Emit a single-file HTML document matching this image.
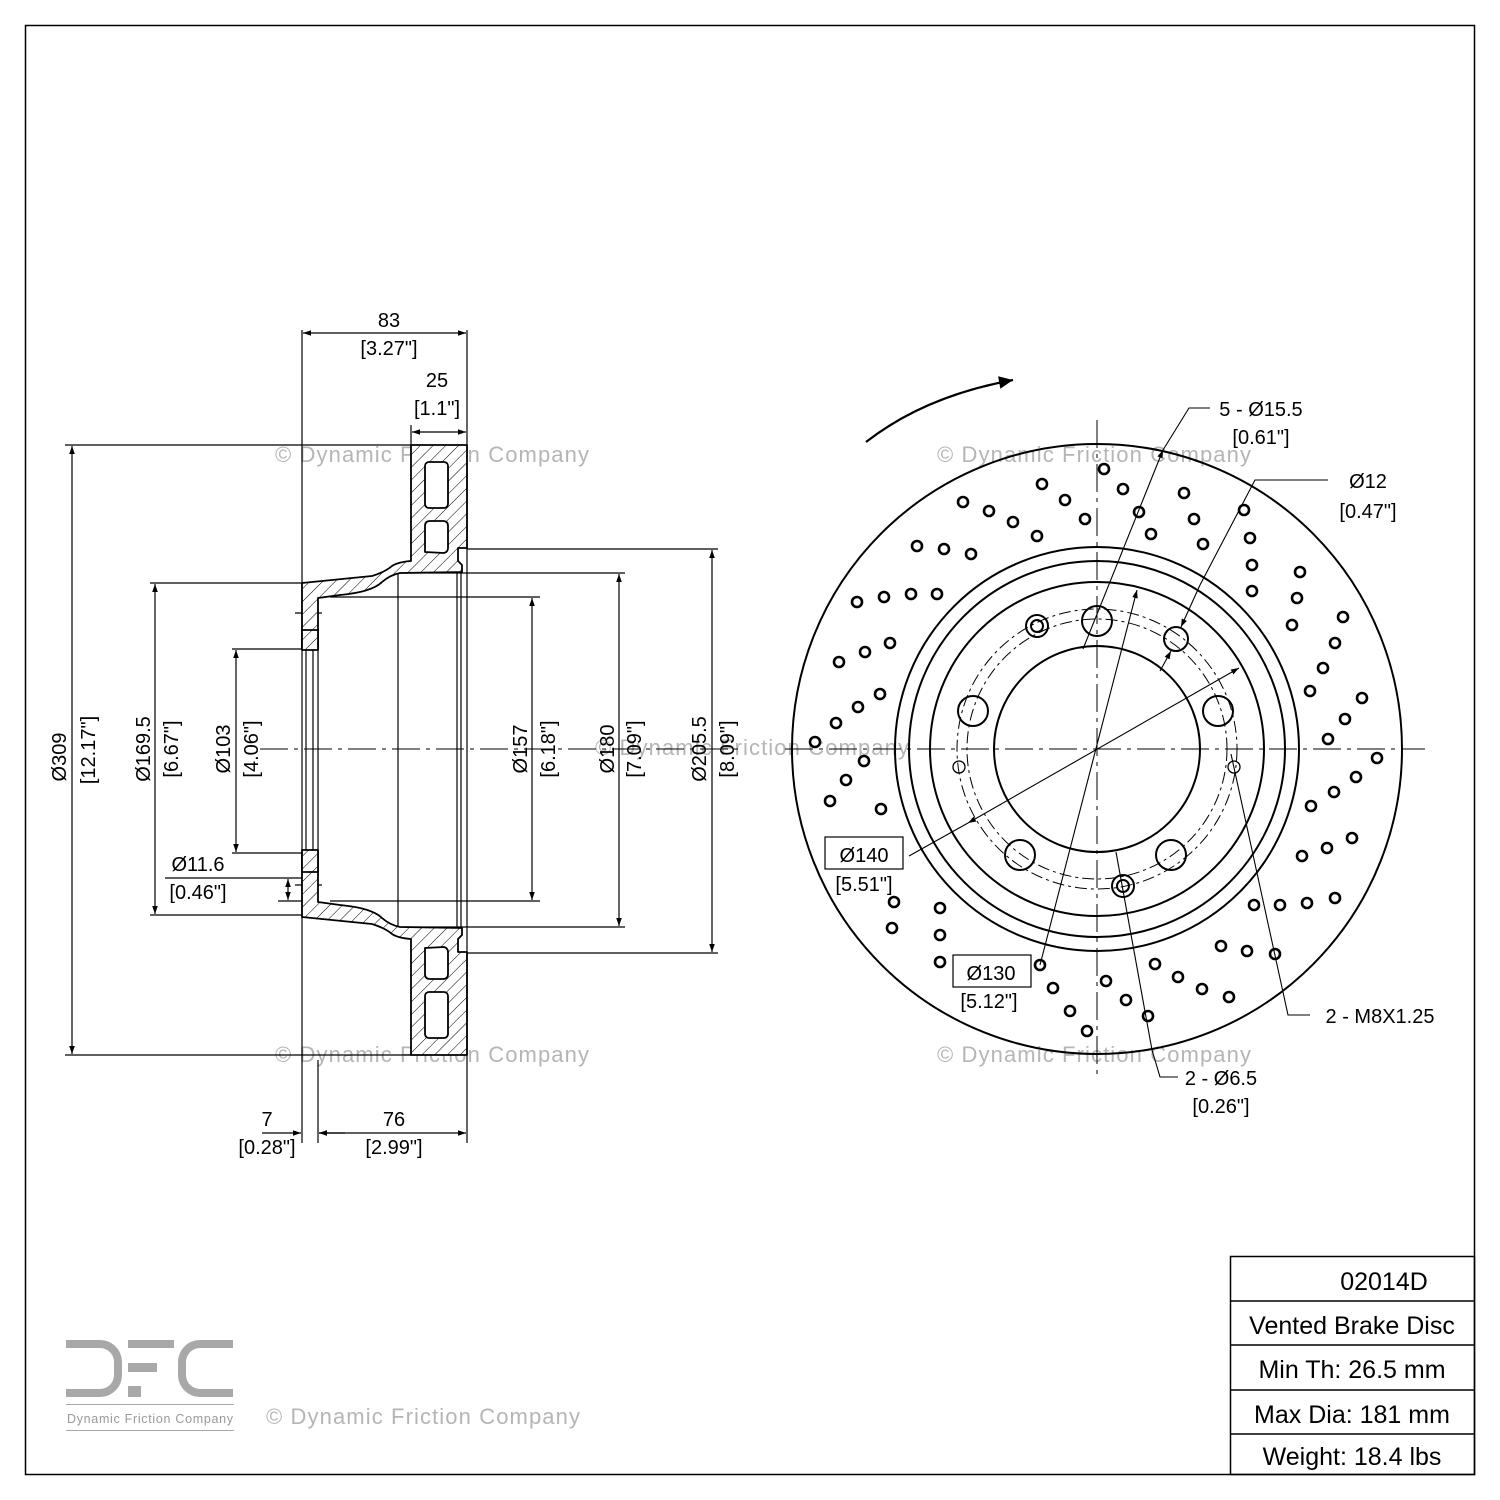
<!DOCTYPE html>
<html><head><meta charset="utf-8"><style>
html,body{margin:0;padding:0;background:#fff}
svg{display:block}
text{font-family:"Liberation Sans",sans-serif}
</style></head><body>
<svg width="1500" height="1500" viewBox="0 0 1500 1500" xmlns="http://www.w3.org/2000/svg">
<defs>
<pattern id="h" patternUnits="userSpaceOnUse" width="9" height="9" patternTransform="rotate(45)">
<rect width="9" height="9" fill="#fff"/><line x1="0" y1="0" x2="0" y2="9" stroke="#000" stroke-width="1"/>
</pattern>
<marker id="a" viewBox="0 0 10 10" refX="10" refY="5" markerWidth="10" markerHeight="8" orient="auto-start-reverse" markerUnits="userSpaceOnUse"><path d="M0,1.5 L10,5 L0,8.5z" fill="#000"/></marker>
<marker id="b" viewBox="0 0 10 10" refX="10" refY="5" markerWidth="20" markerHeight="14" orient="auto" markerUnits="userSpaceOnUse"><path d="M0,0.5 L10,5 L0,9.5z" fill="#000"/></marker>
</defs>
<rect x="25.5" y="25.5" width="1449" height="1449" fill="none" stroke="#000" stroke-width="1.5"/>

<!-- watermarks -->
<g fill="#b5b5b5" font-size="22">
<text x="275" y="462" textLength="314">© Dynamic Friction Company</text>
<text x="937" y="462" textLength="314">© Dynamic Friction Company</text>
<text x="275" y="1062" textLength="314">© Dynamic Friction Company</text>
<text x="937" y="1062" textLength="314">© Dynamic Friction Company</text>
<text x="595" y="755" textLength="314">© Dynamic Friction Company</text>
<text x="266" y="1424" textLength="314">© Dynamic Friction Company</text>
</g>

<!-- SIDE VIEW -->
<g stroke="#000" stroke-width="1.2" fill="none">
<line x1="302" y1="330" x2="302" y2="1143"/>
<line x1="467" y1="330" x2="467" y2="1143"/>
<line x1="318" y1="1060" x2="318" y2="1143"/>
<line x1="411" y1="425" x2="411" y2="445"/>
<line x1="398" y1="565" x2="398" y2="933"/>
<line x1="461" y1="565" x2="461" y2="933"/>
<line x1="457" y1="565" x2="457" y2="933"/>
<line x1="306" y1="640" x2="306" y2="860"/>
<line x1="313" y1="640" x2="313" y2="860"/>
<line x1="318" y1="640" x2="318" y2="860"/>
<line x1="467" y1="549" x2="718" y2="549"/>
<line x1="467" y1="953" x2="718" y2="953"/>
<line x1="400" y1="573" x2="625" y2="573"/>
<line x1="400" y1="927" x2="625" y2="927"/>
<line x1="330" y1="597" x2="540" y2="597"/>
<line x1="330" y1="901" x2="540" y2="901"/>
<line x1="150" y1="583" x2="302" y2="583"/>
<line x1="150" y1="915" x2="302" y2="915"/>
<line x1="232" y1="649" x2="302" y2="649"/>
<line x1="232" y1="853" x2="302" y2="853"/>
<line x1="65" y1="445" x2="411" y2="445"/>
<line x1="65" y1="1055" x2="411" y2="1055"/>
<line x1="165" y1="878" x2="302" y2="878"/>
<line x1="278" y1="901" x2="302" y2="901"/>
<line x1="295" y1="885" x2="322" y2="885"/>
<line x1="295" y1="613" x2="322" y2="613"/>
</g>
<g stroke="#000" stroke-width="1.8" fill="url(#h)" stroke-linejoin="round">
<path d="M302,583 L372,576 Q385,572 392,566 Q398,562 411,561 L411,445 L467,445 L467,548 L458,548 L458,561 L462,565 L462,572 L400,573 Q390,575 382,582 Q372,592 340,595 L318,598 L318,649 L302,649 Z"/>
<path d="M302,917 L372,924 Q385,928 392,934 Q398,938 411,939 L411,1055 L467,1055 L467,952 L458,952 L458,939 L462,935 L462,928 L400,927 Q390,925 382,918 Q372,908 340,905 L318,902 L318,851 L302,851 Z"/>
<rect x="425" y="462" width="23" height="46" rx="4" fill="#fff"/>
<path d="M425,552 L425,526 Q425,521 430,521 L443,521 Q448,521 448,526 L448,548 Q448,552 444,553 Z" fill="#fff"/>
<rect x="425" y="992" width="23" height="46" rx="4" fill="#fff"/>
<path d="M425,948 L425,974 Q425,979 430,979 L443,979 Q448,979 448,974 L448,952 Q448,948 444,947 Z" fill="#fff"/>
<rect x="302" y="630" width="16" height="20" fill="url(#h)"/>
<rect x="302" y="850" width="16" height="22" fill="url(#h)"/>
</g>
<line x1="260" y1="749" x2="740" y2="749" stroke="#000" stroke-width="1" stroke-dasharray="28,6,4,6"/>
<g stroke="#000" stroke-width="1.2" marker-start="url(#a)" marker-end="url(#a)">
<line x1="303" y1="333" x2="466" y2="333"/>
<line x1="412" y1="432" x2="466" y2="432"/>
<line x1="72" y1="446" x2="72" y2="1054"/>
<line x1="155" y1="584" x2="155" y2="914"/>
<line x1="236" y1="650" x2="236" y2="852"/>
<line x1="532" y1="598" x2="532" y2="900"/>
<line x1="619" y1="574" x2="619" y2="926"/>
<line x1="712" y1="550" x2="712" y2="952"/>
<line x1="319" y1="1133" x2="466" y2="1133"/>
</g>
<line x1="288" y1="879" x2="288" y2="900" stroke="#000" stroke-width="1.2" marker-start="url(#a)" marker-end="url(#a)"/>
<line x1="262" y1="1133" x2="301" y2="1133" stroke="#000" stroke-width="1.2" marker-end="url(#a)"/>
<line x1="345" y1="1133" x2="319" y2="1133" stroke="#000" stroke-width="1.2" marker-end="url(#a)"/>

<g font-size="20" fill="#000" text-anchor="middle">
<text x="389" y="327">83</text><text x="389" y="355">[3.27"]</text>
<text x="437" y="387">25</text><text x="437" y="415">[1.1"]</text>
<text x="267" y="1126">7</text><text x="267" y="1154">[0.28"]</text>
<text x="394" y="1126">76</text><text x="394" y="1154">[2.99"]</text>
<text x="198" y="871">Ø11.6</text><text x="198" y="899">[0.46"]</text>
<text transform="translate(66,757) rotate(-90)">Ø309</text>
<text transform="translate(95,750) rotate(-90)">[12.17"]</text>
<text transform="translate(150,749) rotate(-90)">Ø169.5</text>
<text transform="translate(178,749) rotate(-90)">[6.67"]</text>
<text transform="translate(230,749) rotate(-90)">Ø103</text>
<text transform="translate(258,749) rotate(-90)">[4.06"]</text>
<text transform="translate(527,749) rotate(-90)">Ø157</text>
<text transform="translate(555,749) rotate(-90)">[6.18"]</text>
<text transform="translate(614,749) rotate(-90)">Ø180</text>
<text transform="translate(641,749) rotate(-90)">[7.09"]</text>
<text transform="translate(706,749) rotate(-90)">Ø205.5</text>
<text transform="translate(734,749) rotate(-90)">[8.09"]</text>
</g>

<!-- FRONT VIEW -->
<g stroke="#000" fill="none" stroke-width="2">
<circle cx="1097" cy="749" r="305"/>
<circle cx="1097" cy="749" r="202"/>
<circle cx="1097" cy="749" r="188"/>
<circle cx="1097" cy="749" r="167"/>
<circle cx="1097" cy="749" r="103"/>
<circle cx="1097" cy="621" r="15"/>
<circle cx="1176" cy="639" r="12"/>
<circle cx="1218" cy="711" r="15"/>
<circle cx="1171" cy="855" r="15"/>
<circle cx="1020" cy="855" r="15"/>
<circle cx="973" cy="711" r="15"/>
<circle cx="1037" cy="626" r="11"/><circle cx="1037" cy="626" r="6"/>
<circle cx="1123" cy="886" r="11"/><circle cx="1123" cy="886" r="6"/>
<circle cx="959" cy="767" r="6" stroke-width="1.3"/>
<circle cx="1234" cy="767" r="6" stroke-width="1.3"/>
</g>
<g stroke="#000" fill="none" stroke-width="1">
<circle cx="1097" cy="749" r="140" stroke-dasharray="12,4,3,4"/>
<circle cx="1097" cy="749" r="130" stroke-dasharray="12,4,3,4"/>
<line x1="785" y1="749" x2="1425" y2="749" stroke-dasharray="28,6,4,6"/>
<line x1="1097" y1="420" x2="1097" y2="1080" stroke-dasharray="28,6,4,6"/>
</g>
<g stroke="#000" fill="#fff" stroke-width="2.6">
<circle cx="1104" cy="469" r="5"/><circle cx="1123" cy="489" r="5"/><circle cx="1139" cy="512" r="5"/><circle cx="1151" cy="534" r="5"/>
<circle cx="1042" cy="484" r="5"/><circle cx="1065" cy="500" r="5"/><circle cx="1085" cy="519" r="5"/>
<circle cx="963" cy="502" r="5"/><circle cx="989" cy="511" r="5"/><circle cx="1013" cy="522" r="5"/><circle cx="1037" cy="536" r="5"/>
<circle cx="917" cy="546" r="5"/><circle cx="944" cy="549" r="5"/><circle cx="971" cy="554" r="5"/>
<circle cx="1184" cy="493" r="5"/><circle cx="1194" cy="519" r="5"/><circle cx="1203" cy="544" r="5"/>
<circle cx="1244" cy="510" r="5"/><circle cx="1250" cy="538" r="5"/><circle cx="1252" cy="565" r="5"/><circle cx="1252" cy="591" r="5"/>
<circle cx="857" cy="602" r="5"/><circle cx="884" cy="597" r="5"/><circle cx="911" cy="594" r="5"/><circle cx="937" cy="594" r="5"/>
<circle cx="839" cy="662" r="5"/><circle cx="865" cy="652" r="5"/><circle cx="890" cy="643" r="5"/>
<circle cx="836" cy="723" r="5"/><circle cx="858" cy="707" r="5"/><circle cx="880" cy="694" r="5"/>
<circle cx="815" cy="742" r="5"/><circle cx="864" cy="761" r="5"/><circle cx="846" cy="780" r="5"/><circle cx="830" cy="801" r="5"/><circle cx="881" cy="809" r="5"/>
<circle cx="892" cy="928" r="5"/><circle cx="894" cy="902" r="5"/><circle cx="940" cy="908" r="5"/><circle cx="940" cy="935" r="5"/>
<circle cx="1300" cy="572" r="5"/><circle cx="1297" cy="598" r="5"/><circle cx="1292" cy="625" r="5"/>
<circle cx="1343" cy="617" r="5"/><circle cx="1335" cy="643" r="5"/><circle cx="1323" cy="668" r="5"/><circle cx="1310" cy="691" r="5"/>
<circle cx="1362" cy="698" r="5"/><circle cx="1345" cy="719" r="5"/><circle cx="1328" cy="739" r="5"/>
<circle cx="1377" cy="758" r="5"/><circle cx="1356" cy="777" r="5"/><circle cx="1334" cy="792" r="5"/><circle cx="1311" cy="806" r="5"/>
<circle cx="1352" cy="838" r="5"/><circle cx="1327" cy="848" r="5"/><circle cx="1302" cy="856" r="5"/>
<circle cx="1335" cy="898" r="5"/><circle cx="1307" cy="903" r="5"/><circle cx="1280" cy="905" r="5"/><circle cx="1254" cy="905" r="5"/>
<circle cx="1221" cy="946" r="5"/><circle cx="1247" cy="951" r="5"/><circle cx="1275" cy="954" r="5"/>
<circle cx="1155" cy="964" r="5"/><circle cx="1178" cy="977" r="5"/><circle cx="1202" cy="989" r="5"/><circle cx="1229" cy="997" r="5"/>
<circle cx="1106" cy="981" r="5"/><circle cx="1126" cy="1000" r="5"/><circle cx="1148" cy="1016" r="5"/>
<circle cx="1040" cy="965" r="5"/><circle cx="1053" cy="988" r="5"/><circle cx="1070" cy="1011" r="5"/><circle cx="1087" cy="1031" r="5"/>
<circle cx="940" cy="962" r="5"/>
</g>
<g stroke="#000" stroke-width="1.1" fill="none">
<polyline points="1210,408 1189,408 1163,450"/>
<line x1="1163" y1="450" x2="1083" y2="649" marker-start="url(#a)"/>
<polyline points="1328,480 1255,480 1200,585"/>
<line x1="1200" y1="585" x2="1181" y2="627" marker-end="url(#a)"/>
<line x1="1171" y1="651" x2="1160" y2="671" marker-start="url(#a)"/>
<line x1="1239" y1="668" x2="968" y2="823" marker-start="url(#a)" marker-end="url(#a)"/>
<line x1="968" y1="823" x2="909" y2="856"/>
<line x1="1137" y1="590" x2="1040" y2="965" marker-start="url(#a)"/>
<polyline points="1116,852 1152,1050 1160,1077 1178,1077"/>
<polyline points="1231,754 1288,1015 1310,1015"/>
<path d="M866,442 Q925,396 1013,380" stroke-width="2.2" marker-end="url(#b)"/>
</g>
<rect x="825" y="837" width="78" height="32" fill="#fff" stroke="#000" stroke-width="1.2"/>
<rect x="953" y="955" width="78" height="32" fill="#fff" stroke="#000" stroke-width="1.2"/>
<g font-size="20" fill="#000" text-anchor="middle">
<text x="864" y="862">Ø140</text><text x="864" y="891">[5.51"]</text>
<text x="991" y="980">Ø130</text><text x="989" y="1008">[5.12"]</text>
<text x="1261" y="416">5 - Ø15.5</text><text x="1261" y="444">[0.61"]</text>
<text x="1368" y="488">Ø12</text><text x="1368" y="518">[0.47"]</text>
<text x="1380" y="1023">2 - M8X1.25</text>
<text x="1221" y="1085">2 - Ø6.5</text><text x="1221" y="1113">[0.26"]</text>
</g>

<g stroke="#000" stroke-width="1.5" fill="none">
<rect x="1230.5" y="1256.5" width="244" height="218"/>
<line x1="1230" y1="1301" x2="1475" y2="1301"/>
<line x1="1230" y1="1345" x2="1475" y2="1345"/>
<line x1="1230" y1="1390" x2="1475" y2="1390"/>
<line x1="1230" y1="1434" x2="1475" y2="1434"/>
</g>
<g font-size="25" fill="#000" text-anchor="middle">
<text x="1384" y="1290">02014D</text>
<text x="1352" y="1334">Vented Brake Disc</text>
<text x="1352" y="1378">Min Th: 26.5 mm</text>
<text x="1352" y="1423">Max Dia: 181 mm</text>
<text x="1352" y="1465">Weight: 18.4 lbs</text>
</g>

<g fill="#a8a8a8">
<path d="M66,1340 H100 A22,22 0 0 1 122,1362 V1375 A22,22 0 0 1 100,1397 H66 V1389 H100 A14,14 0 0 0 114,1375 V1362 A14,14 0 0 0 100,1348 H66 Z"/>
<rect x="128" y="1340" width="46" height="8"/>
<rect x="128" y="1363" width="29" height="9"/>
<rect x="128" y="1386" width="13" height="11"/>
<path d="M233,1340 H200 A22,22 0 0 0 178,1362 V1375 A22,22 0 0 0 200,1397 H233 V1389 H200 A14,14 0 0 1 186,1375 V1362 A14,14 0 0 1 200,1348 H233 Z"/>
<rect x="66" y="1404" width="168" height="1"/>
<rect x="66" y="1430" width="168" height="1"/>
</g>
<text x="150" y="1423" font-size="12.5" fill="#999" text-anchor="middle" textLength="166">Dynamic Friction Company</text>
</svg>
</body></html>
